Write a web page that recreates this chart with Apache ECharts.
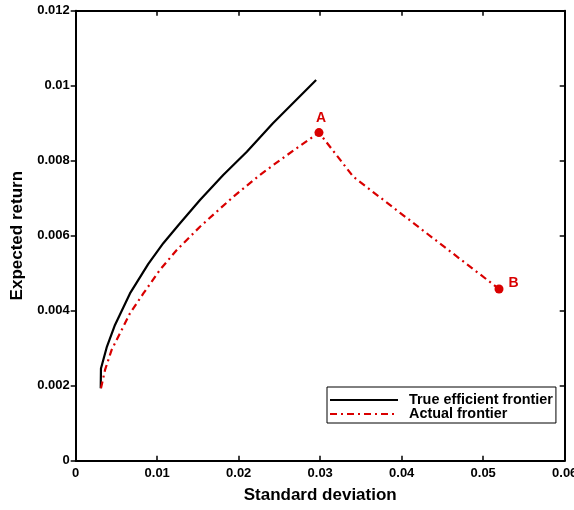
<!DOCTYPE html>
<html>
<head>
<meta charset="utf-8">
<script src="https://cdn.jsdelivr.net/npm/echarts@6/dist/echarts.min.js"></script>
<style>html,body{margin:0;padding:0;background:#fff;}#c{width:574px;height:510px;}</style>
</head>
<body>
<div id="c"></div>
<script>
var trueFrontier = [[0.00307,0.00193],[0.0031,0.00246],[0.0038,0.00302],[0.00482,0.00362],[0.00666,0.00446],[0.00891,0.00525],[0.01075,0.0058],[0.0128,0.00633],[0.01525,0.00695],[0.0181,0.00762],[0.021,0.00824],[0.0242,0.009],[0.0295,0.01015]];
var actualFrontier = [[0.0031,0.00193],[0.0036,0.00242],[0.0044,0.00295],[0.00544,0.0034],[0.00666,0.00393],[0.0083,0.00446],[0.01034,0.00509],[0.0124,0.00562],[0.01525,0.00624],[0.01934,0.00704],[0.0226,0.00762],[0.0251,0.00802],[0.0271,0.00833],[0.02985,0.00875],[0.03407,0.00757],[0.05194,0.00458]];
var markedPoints = [[0.02985,0.00875],[0.05194,0.00458]];
var markedNames = ['A','B'];
var xTickLabels = ['0','0.01','0.02','0.03','0.04','0.05','0.06'];
var yTickLabels = ['0','0.002','0.004','0.006','0.008','0.01','0.012'];
var seriesNames = ['True efficient frontier','Actual frontier'];

var red = '#d90000';
var font = 'Liberation Sans, Arial, sans-serif';
var chart = echarts.init(document.getElementById('c'));
var labelStyle = {fontFamily: font, fontWeight: 'bold', fontSize: 13, color: '#000'};
chart.setOption({
  animation: false,
  grid: {left: 75.7, right: 9.3, top: 10.7, bottom: 49.3, containLabel: false, outerBoundsMode: 'none'},
  legend: {
    data: seriesNames,
    orient: 'vertical',
    left: 327, top: 387,
    itemWidth: 68, itemHeight: 14, itemGap: 0,
    padding: [6, 3, 2, 2],
    borderColor: '#000', borderWidth: 1, borderRadius: 0,
    backgroundColor: '#fff',
    itemStyle: {opacity: 0},
    textStyle: {fontFamily: font, fontWeight: 'bold', fontSize: 14.4, color: '#000', padding: [0, 0, 0, 6]}
  },
  xAxis: [{
    type: 'value', min: 0, max: 0.06, interval: 0.01, position: 'bottom',
    name: 'Standard deviation', nameLocation: 'middle', nameGap: 26,
    nameTextStyle: {fontFamily: font, fontWeight: 'bold', fontSize: 17, color: '#000'},
    axisLine: {show: true, lineStyle: {color: '#000', width: 2}},
    axisTick: {show: true, inside: true, length: 5, lineStyle: {color: '#000', width: 1.5}},
    axisLabel: Object.assign({margin: 6, formatter: function (v) { return xTickLabels[Math.round(v / 0.01)]; }}, labelStyle),
    splitLine: {show: false}
  }, {
    type: 'value', min: 0, max: 0.06, interval: 0.01, position: 'top',
    axisLine: {show: true, onZero: false, lineStyle: {color: '#000', width: 2}},
    axisTick: {show: true, inside: true, length: 5, lineStyle: {color: '#000', width: 1.5}},
    axisLabel: {show: false}, splitLine: {show: false}
  }],
  yAxis: [{
    type: 'value', min: 0, max: 0.012, interval: 0.002, position: 'left',
    name: 'Expected return', nameLocation: 'middle', nameGap: 47,
    nameTextStyle: {fontFamily: font, fontWeight: 'bold', fontSize: 17, color: '#000'},
    axisLine: {show: true, lineStyle: {color: '#000', width: 2}},
    axisTick: {show: true, inside: false, length: 5, lineStyle: {color: '#000', width: 1.5}},
    axisLabel: Object.assign({margin: 6, formatter: function (v) { return yTickLabels[Math.round(v / 0.002)]; }}, labelStyle),
    splitLine: {show: false}
  }, {
    type: 'value', min: 0, max: 0.012, interval: 0.002, position: 'right',
    axisLine: {show: true, onZero: false, lineStyle: {color: '#000', width: 2}},
    axisTick: {show: true, inside: true, length: 5, lineStyle: {color: '#000', width: 1.5}},
    axisLabel: {show: false}, splitLine: {show: false}
  }],
  series: [{
    name: seriesNames[0], type: 'line', data: trueFrontier, symbol: 'none',
    xAxisIndex: 0, yAxisIndex: 0,
    lineStyle: {color: '#000', width: 2.2}, itemStyle: {color: '#000'}
  }, {
    name: seriesNames[1], type: 'line', data: actualFrontier, symbol: 'none',
    xAxisIndex: 0, yAxisIndex: 0,
    lineStyle: {color: red, width: 2.2, type: [7, 4, 2, 4]}, itemStyle: {color: red}
  }, {
    name: 'frame', type: 'line', data: [], symbol: 'none',
    xAxisIndex: 1, yAxisIndex: 1, silent: true
  }, {
    name: 'points', type: 'scatter', symbol: 'circle', symbolSize: 9,
    xAxisIndex: 0, yAxisIndex: 0,
    itemStyle: {color: red, opacity: 1},
    data: markedPoints.map(function (p, i) {
      return {
        value: p,
        label: {
          show: true, formatter: markedNames[i],
          position: i === 0 ? 'top' : 'right',
          distance: i === 0 ? 3 : 5,
          offset: i === 0 ? [2, 0] : [0, -6],
          fontFamily: font, fontWeight: 'bold', fontSize: 14, color: red
        }
      };
    })
  }]
});
</script>
</body>
</html>
